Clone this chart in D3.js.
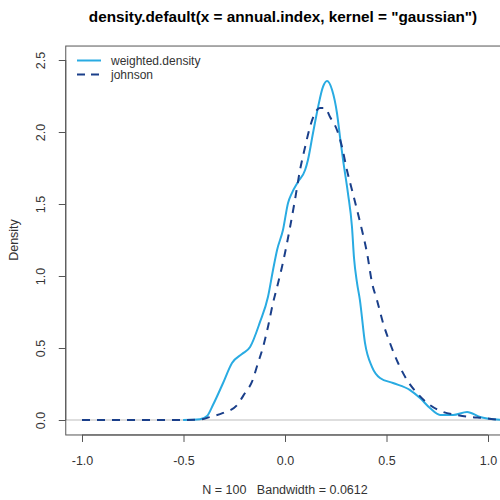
<!DOCTYPE html>
<html><head><meta charset="utf-8">
<script src="https://cdn.jsdelivr.net/npm/d3@7"></script>
<style>body{margin:0;background:#fff}svg{display:block}</style>
</head><body>
<div id="chart"></div>
<script>
const titleText = 'density.default(x = annual.index, kernel = "gaussian")';
const xLabelText = "N = 100\u00a0\u00a0 Bandwidth = 0.0612";
const yLabelText = "Density";
const xTicks = [-1.0, -0.5, 0.0, 0.5, 1.0];
const yTicks = [0.0, 0.5, 1.0, 1.5, 2.0, 2.5];
const seriesNames = ["weighted.density", "johnson"];

const weightedX = [-0.502,-0.419,-0.384,-0.355,-0.305,-0.261,-0.212,-0.172,-0.123,-0.084,-0.059,-0.039,-0.010,0.015,0.034,0.064,0.099,0.113,0.138,0.163,0.187,0.207,0.232,0.256,0.271,0.286,0.310,0.330,0.340,0.355,0.369,0.394,0.429,0.468,0.532,0.616,0.665,0.714,0.764,0.828,0.897,0.961,1.044,1.08];
const weightedY = [0,0.005,0.028,0.104,0.257,0.396,0.458,0.507,0.681,0.854,1.042,1.181,1.319,1.507,1.576,1.653,1.736,1.806,1.993,2.174,2.313,2.354,2.292,2.132,1.965,1.806,1.576,1.340,1.125,0.951,0.833,0.535,0.368,0.292,0.257,0.208,0.153,0.083,0.035,0.035,0.056,0.021,0.003,0];

const johnsonX = [-1.0,-0.502,-0.419,-0.369,-0.305,-0.236,-0.197,-0.163,-0.133,-0.108,-0.084,-0.059,-0.034,-0.015,0.0,0.025,0.049,0.074,0.099,0.123,0.148,0.172,0.197,0.222,0.256,0.281,0.305,0.330,0.355,0.379,0.404,0.429,0.453,0.483,0.517,0.557,0.601,0.650,0.714,0.778,0.847,0.911,0.975,1.044,1.08];
const johnsonY = [0,0,0.003,0.021,0.049,0.104,0.188,0.264,0.396,0.507,0.646,0.813,0.951,1.063,1.160,1.340,1.528,1.736,1.896,2.035,2.132,2.167,2.167,2.104,2.014,1.896,1.736,1.597,1.458,1.319,1.160,0.951,0.833,0.674,0.535,0.396,0.278,0.188,0.104,0.056,0.035,0.021,0.014,0.003,0];

const W = 500, H = 500;
const colSolid = "#29abe2", colDash = "#1a3f8a";
const svg = d3.select("#chart").append("svg").attr("width", W).attr("height", H);
const font = "'Liberation Sans', Arial, sans-serif";
const fs = 12.5;

const x = d3.scaleLinear().domain([-1.0, 1.0]).range([82, 488]);
const y = d3.scaleLinear().domain([0, 2.5]).range([420, 60]);
const boxL = x(-1.08), boxR = x(1.08), boxT = y(2.597), boxB = y(-0.104);

svg.append("defs").append("clipPath").attr("id","clip").append("rect")
  .attr("x", boxL).attr("y", boxT).attr("width", boxR-boxL).attr("height", boxB-boxT);

// zero line
svg.append("line").attr("x1", boxL).attr("x2", boxR).attr("y1", y(0)).attr("y2", y(0))
  .attr("stroke", "#d3d3d3").attr("stroke-width", 1.5);

const line = d3.line().x(d => x(d[0])).y(d => y(d[1])).curve(d3.curveMonotoneX);
const g = svg.append("g").attr("clip-path","url(#clip)");
g.append("path").datum(weightedX.map((v,i)=>[v, weightedY[i]]))
  .attr("d", line).attr("fill","none").attr("stroke", colSolid).attr("stroke-width", 2);
g.append("path").datum(johnsonX.map((v,i)=>[v, johnsonY[i]]))
  .attr("d", line).attr("fill","none").attr("stroke", colDash).attr("stroke-width", 2)
  .attr("stroke-dasharray", "8,7");

// box
svg.append("rect").attr("x", boxL).attr("y", boxT).attr("width", boxR-boxL).attr("height", boxB-boxT)
  .attr("fill","none").attr("stroke","#555").attr("stroke-width",1);

// x axis
const xa = svg.append("g").attr("transform", `translate(0,${boxB})`)
  .call(d3.axisBottom(x).tickValues(xTicks).tickFormat(d3.format(".1f")).tickSize(7).tickPadding(14));
xa.select(".domain").attr("stroke","#555").attr("d", `M${x(-1)},0H${x(1)}`);
xa.selectAll(".tick line").attr("stroke","#555");
xa.selectAll("text").attr("font-family", font).attr("font-size", fs).attr("fill","#333")
  .text(d => d3.format(".1f")(d).replace("\u2212","-"));

// y axis
const ya = svg.append("g").attr("transform", `translate(${boxL},0)`)
  .call(d3.axisLeft(y).tickValues(yTicks).tickFormat(d3.format(".1f")).tickSize(7).tickPadding(0));
ya.select(".domain").attr("stroke","#555").attr("d", `M0,${y(0)}V${y(2.5)}`);
ya.selectAll(".tick line").attr("stroke","#555");
ya.selectAll("text").attr("font-family", font).attr("font-size", fs).attr("fill","#333")
  .attr("x", 0).attr("dy", 0).attr("text-anchor","middle")
  .attr("transform", "translate(-21,0) rotate(-90)");

// title
svg.append("text").attr("x", 283).attr("y", 22).attr("text-anchor","middle")
  .attr("font-family", font).attr("font-weight","bold").attr("font-size", 15.3).attr("fill","#000")
  .text(titleText);
// x label
svg.append("text").attr("x", 285).attr("y", 494).attr("text-anchor","middle")
  .attr("font-family", font).attr("font-size", fs).attr("fill","#333").text(xLabelText);
// y label
svg.append("text").attr("transform", `translate(18,${y(1.25)}) rotate(-90)`).attr("text-anchor","middle")
  .attr("font-family", font).attr("font-size", fs).attr("fill","#333").text(yLabelText);

// legend
const leg = svg.append("g");
const legY = [60.5, 74.5];
seriesNames.forEach((n, i) => {
  leg.append("line").attr("x1", 77).attr("x2", 101).attr("y1", legY[i]).attr("y2", legY[i])
    .attr("stroke", i === 0 ? colSolid : colDash).attr("stroke-width", 2)
    .attr("stroke-dasharray", i === 0 ? null : "8,6");
  leg.append("text").attr("x", 111).attr("y", legY[i] + 4).attr("font-family", font)
    .attr("font-size", 12).attr("fill", "#333").text(n);
});
</script>
</body></html>
